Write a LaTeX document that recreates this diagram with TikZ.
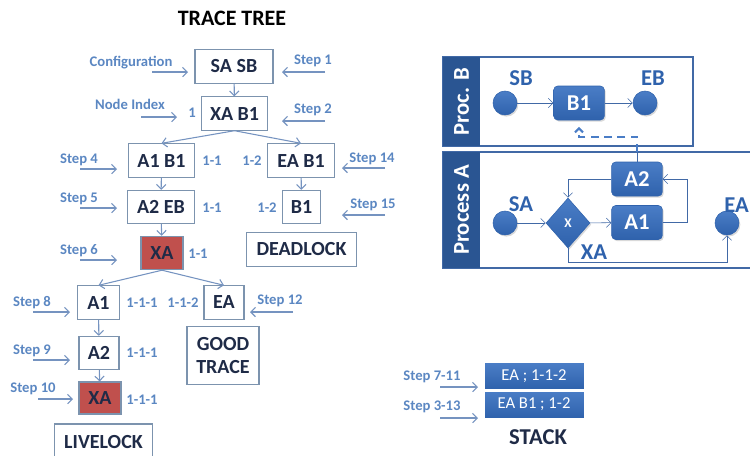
\documentclass[tikz,border=0pt]{standalone}
\usepackage{fontspec}
\setmainfont{Carlito}
\usetikzlibrary{shapes,arrows,arrows.meta,shapes.geometric,shadows}
\definecolor{steptext}{HTML}{5B87C2}
\definecolor{arrowcol}{HTML}{7593C0}
\definecolor{boxline}{HTML}{7C93AE}
\definecolor{navy}{HTML}{1F2B47}
\definecolor{deadred}{HTML}{C0504D}
\definecolor{procblue}{HTML}{2F62AC}
\definecolor{proclight}{HTML}{4A7DC6}
\definecolor{lanedark}{HTML}{2A5592}
\definecolor{laneline}{HTML}{4169A6}
\tikzstyle{block} = [rectangle, draw=boxline, thick, fill=white, text=navy,
    font=\bfseries\fontsize{15}{17}\selectfont, inner sep=0pt, minimum height=25pt]
\tikzstyle{dead} = [block, fill=deadred]
\tikzstyle{note} = [text=steptext, font=\bfseries\fontsize{11}{13}\selectfont, inner sep=0pt]
\tikzstyle{index} = [note]
\tikzstyle{line} = [draw=arrowcol, thick, -{Straight Barb[length=3.5pt,width=7pt]}]
\tikzstyle{flow} = [draw=laneline, -{Straight Barb[length=3.5pt,width=7pt]}]
\tikzstyle{task} = [rectangle, rounded corners=3pt, top color=proclight, bottom color=procblue,
    draw=procblue, text=white, font=\bfseries\fontsize{17}{19}\selectfont,
    minimum width=38pt, minimum height=25.5pt, inner sep=0pt,
    drop shadow={opacity=0.3, shadow xshift=1pt, shadow yshift=-1.2pt}]
\tikzstyle{event} = [circle, top color=proclight, bottom color=procblue, draw=procblue,
    minimum size=18pt, inner sep=0pt, drop shadow={opacity=0.3, shadow xshift=1pt, shadow yshift=-1.2pt}]
\tikzstyle{gate} = [diamond, top color=proclight, bottom color=procblue, draw=procblue,
    text=white, font=\bfseries\fontsize{10}{11}\selectfont, minimum width=33pt,
    minimum height=37.5pt, inner sep=0pt, drop shadow={opacity=0.3, shadow xshift=1pt, shadow yshift=-1.2pt}]
\tikzstyle{evlabel} = [text=procblue, font=\bfseries\fontsize{17}{19}\selectfont, inner sep=0pt]
\tikzstyle{lanetext} = [text=white, rotate=90, font=\bfseries\fontsize{17}{19}\selectfont, inner sep=0pt]
\tikzstyle{stackbox} = [rectangle, top color=proclight, bottom color=procblue, draw=white,
    text=white, font=\fontsize{12.5}{14}\selectfont, minimum width=75pt, minimum height=20pt, inner sep=0pt]
\tikzstyle{dashline} = [draw=proclight, line width=1.5pt, dash pattern=on 6pt off 4pt,
    -{Straight Barb[length=3pt,width=6pt]}]

\begin{document}
\begin{tikzpicture}[x=0.75pt, y=-0.75pt]
	\useasboundingbox (0,0) rectangle (750,455);

	% trace tree
	\node [font=\bfseries\fontsize{16.5}{19}\selectfont] (title) at (232,18) {TRACE TREE};
	\node [block, minimum width=58.5pt] (sasb) at (234,66.5) {SA SB};
	\node [block, minimum width=50pt] (xab1) at (234.5,113.5) {XA B1};
	\node [block, minimum width=50pt] (a1b1) at (161.5,160.5) {A1 B1};
	\node [block, minimum width=50pt] (eab1) at (301,160.5) {EA B1};
	\node [block, minimum width=50pt] (a2eb) at (161,207) {A2 EB};
	\node [block, minimum width=29pt] (b1) at (301.5,207) {B1};
	\node [dead, minimum width=31.5pt] (xa) at (162,253) {XA};
	\node [block, minimum width=82pt] (deadlock) at (301.5,249.5) {DEADLOCK};
	\node [block, minimum width=31pt] (a1) at (98.5,302.5) {A1};
	\node [block, minimum width=30pt] (ea) at (224,302.5) {EA};
	\node [block, minimum width=30pt] (a2) at (99,353) {A2};
	\node [dead, minimum width=31.5pt, minimum height=24pt] (xa2) at (100,398) {XA};
	\node [block, minimum width=54pt, minimum height=43pt, align=center] (good) at (223,355.5) {GOOD\\TRACE};
	\node [block, minimum width=73pt, minimum height=27pt] (livelock) at (103.5,442) {LIVELOCK};

	\path [line] (sasb) -- (xab1);
	\path [line] (xab1.south) -- (a1b1.north);
	\path [line] (xab1.south) -- (eab1.north);
	\path [line] (a1b1) -- (a2eb);
	\path [line] (eab1) -- (b1);
	\path [line] (a2eb) -- (xa);
	\path [line] (xa.south) -- (a1.north);
	\path [line] (xa.south) -- (ea.north);
	\path [line] (a1) -- (a2);
	\path [line] (a2) -- (xa2);

	% indices
	\node [index] (i1) at (192,113) {1};
	\node [index] (i11a) at (212,161) {1-1};
	\node [index] (i12a) at (252,161) {1-2};
	\node [index] (i11b) at (212,208) {1-1};
	\node [index] (i12b) at (267,208) {1-2};
	\node [index] (i11c) at (198,254) {1-1};
	\node [index] (i111a) at (142,303) {1-1-1};
	\node [index] (i112) at (183,303) {1-1-2};
	\node [index] (i111b) at (142,353) {1-1-1};
	\node [index] (i111c) at (142,400) {1-1-1};

	% step notes
	\node [note] (conf) at (131,63) {Configuration};
	\coordinate (conf1) at (152,72); \coordinate (conf2) at (188,72);
	\node [note] (s1) at (313,61) {Step 1};
	\coordinate (s1a) at (325,72); \coordinate (s1b) at (282,72);
	\node [note] (nidx) at (130,104) {Node Index};
	\coordinate (nidx1) at (141,117); \coordinate (nidx2) at (177,117);
	\node [note] (s2) at (313,110) {Step 2};
	\coordinate (s2a) at (325,121); \coordinate (s2b) at (282,121);
	\node [note] (s4) at (79,160) {Step 4};
	\coordinate (s4a) at (80,169); \coordinate (s4b) at (117,169);
	\node [note] (s14) at (372,159) {Step 14};
	\coordinate (s14a) at (385,168); \coordinate (s14b) at (342,168);
	\node [note] (s5) at (79,199) {Step 5};
	\coordinate (s5a) at (80,208); \coordinate (s5b) at (117,208);
	\node [note] (s15) at (373,205) {Step 15};
	\coordinate (s15a) at (385,215); \coordinate (s15b) at (342,215);
	\node [note] (s6) at (79,251) {Step 6};
	\coordinate (s6a) at (80,260); \coordinate (s6b) at (117,260);
	\node [note] (s8) at (32,303) {Step 8};
	\coordinate (s8a) at (33,312); \coordinate (s8b) at (70,312);
	\node [note] (s12) at (280,301) {Step 12};
	\coordinate (s12a) at (293,312); \coordinate (s12b) at (250,312);
	\node [note] (s9) at (32,351) {Step 9};
	\coordinate (s9a) at (33,360); \coordinate (s9b) at (70,360);
	\node [note] (s10) at (33,389) {Step 10};
	\coordinate (s10a) at (38,399); \coordinate (s10b) at (73,399);

	\path [line] (conf1) -- (conf2);
	\path [line] (s1a) -- (s1b);
	\path [line] (nidx1) -- (nidx2);
	\path [line] (s2a) -- (s2b);
	\path [line] (s4a) -- (s4b);
	\path [line] (s14a) -- (s14b);
	\path [line] (s5a) -- (s5b);
	\path [line] (s15a) -- (s15b);
	\path [line] (s6a) -- (s6b);
	\path [line] (s8a) -- (s8b);
	\path [line] (s12a) -- (s12b);
	\path [line] (s9a) -- (s9b);
	\path [line] (s10a) -- (s10b);

	% processes
	\draw [laneline, thick] (443,57) rectangle (693,146);
	\fill [lanedark] (443,57) rectangle (480,146);
	\node [lanetext] (procb) at (461.5,101.5) {Proc. B};
	\draw [laneline, thick] (443,152) rectangle (753,268);
	\fill [lanedark] (443,152) rectangle (480,268);
	\node [lanetext] (proca) at (461.5,210) {Process A};

	\node [event] (sb) at (505,103) {};
	\node [task] (b1p) at (579,103) {B1};
	\node [event] (eb) at (645,103) {};
	\node [evlabel] (sbl) at (521,78) {SB};
	\node [evlabel] (ebl) at (653,78) {EB};

	\node [event] (sa) at (505,223) {};
	\node [gate] (xp) at (568,223) {X};
	\node [task] (a1p) at (637,222.5) {A1};
	\node [task] (a2p) at (637,179) {A2};
	\node [event] (eap) at (727,223) {};
	\node [evlabel] (sal) at (521,204) {SA};
	\node [evlabel] (eal) at (736.5,205) {EA};
	\node [evlabel] (xal) at (594,252) {XA};

	\path [flow] (sb) -- (b1p);
	\path [flow] (b1p) -- (eb);
	\path [flow] (sa) -- (xp);
	\path [flow] (xp) -- (a1p);
	\path [flow] (a1p.east) -- ++(25,0) |- (a2p.east);
	\path [flow] (a2p.west) -| (xp.north);
	\path [flow] (xp.south) -- ++(0,14) -| (eap.south);
	\draw [laneline] (a2p.north) -- ++(0,-10);
	\path [dashline, shorten >=5pt] (a2p.north) ++(0,-10) -- ++(0,-15) -| (b1p.south);

	% stack
	\node [stackbox] (top) at (534,376) {EA ; 1-1-2};
	\node [stackbox] (bottom) at (534,404.5) {EA B1 ; 1-2};
	\node [block, draw=none, fill=none, font=\bfseries\fontsize{17}{19}\selectfont] (stack) at (538,437) {STACK};
	\node [note] (s711) at (432,377) {Step 7-11};
	\coordinate (s711a) at (440,387); \coordinate (s711b) at (478,387);
	\node [note] (s313) at (432,407) {Step 3-13};
	\coordinate (s313a) at (440,418); \coordinate (s313b) at (478,418);
	\path [line] (s711a) -- (s711b);
	\path [line] (s313a) -- (s313b);
\end{tikzpicture}
\end{document}
